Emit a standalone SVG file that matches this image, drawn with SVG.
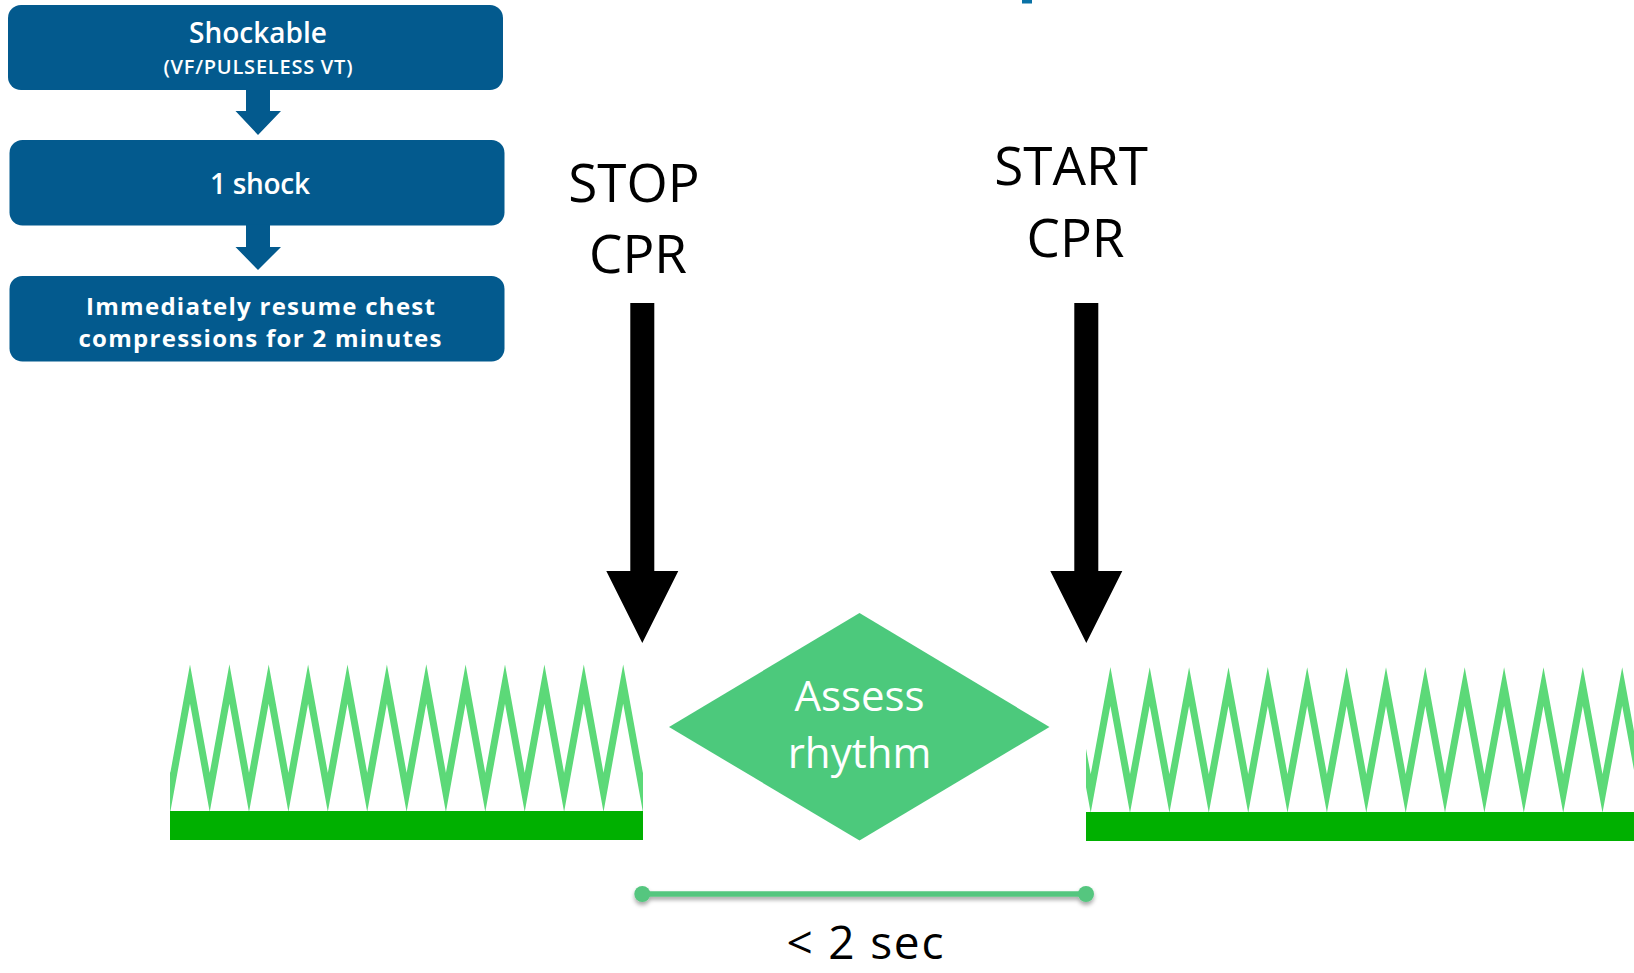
<svg xmlns="http://www.w3.org/2000/svg" width="1634" height="973" viewBox="0 0 1634 973">
  <style>
    .box { fill: #035A8E; }
    .boxtext { fill: #ffffff; font-family: "Open Sans", "Liberation Sans", sans-serif; font-weight: 600; text-anchor: middle; }
    .boxtext-strong { fill: #ffffff; font-family: "Open Sans", "Liberation Sans", sans-serif; font-weight: 700; text-anchor: middle; }
    .label { fill: #000000; font-family: "Open Sans", "Liberation Sans", sans-serif; font-size: 53px; text-anchor: middle; }
    .wave { fill: none; stroke: #5CD978; stroke-width: 7; stroke-linejoin: miter; stroke-miterlimit: 12; }
    .bar { fill: #00B000; }
    .bigarrow { fill: #000000; }
    .flowarrow { fill: #035A8E; }
  </style>
  <defs>
    <clipPath id="clipLeft"><rect x="170" y="640" width="473" height="200"/></clipPath>
    <clipPath id="clipRight"><rect x="1086" y="640" width="548" height="200"/></clipPath>
    <filter id="lineShadow" x="-5%" y="-100%" width="110%" height="300%">
      <feDropShadow dx="0" dy="3" stdDeviation="2" flood-color="#000000" flood-opacity="0.35"/>
    </filter>
  </defs>

  <rect width="1634" height="973" fill="#ffffff"/>

  <!-- descender of the heading above the frame -->
  <rect x="1022" y="0" width="10" height="3.5" fill="#0A72A6"/>

  <!-- flowchart boxes -->
  <g id="node-shockable">
    <rect class="box" x="8" y="5" width="495" height="85" rx="13"/>
    <text class="boxtext" x="258" y="42.5" font-size="28" textLength="138">Shockable</text>
    <text class="boxtext" x="258" y="74" font-size="20" textLength="189">(VF/PULSELESS VT)</text>
  </g>
  <g id="node-shock">
    <rect class="box" x="9.5" y="140" width="495" height="85.5" rx="13"/>
    <text class="boxtext" x="260" y="194" font-size="28" textLength="100">1 shock</text>
  </g>
  <g id="node-resume">
    <rect class="box" x="9.5" y="276" width="495" height="85.5" rx="13"/>
    <text class="boxtext-strong" x="260.5" y="315" font-size="24" textLength="349">Immediately resume chest</text>
    <text class="boxtext-strong" x="260" y="346.5" font-size="24" textLength="363">compressions for 2 minutes</text>
  </g>

  <!-- labels over the timing arrows -->
  <g id="node-stop">
    <text class="label" x="634" y="202">STOP</text>
    <text class="label" x="638" y="272.5">CPR</text>
  </g>
  <g id="node-start">
    <text class="label" x="1071" y="185">START</text>
    <text class="label" x="1075.5" y="256.5">CPR</text>
  </g>

  <!-- compression waveform before the pause -->
  <g id="node-compressions-before">
    <g clip-path="url(#clipLeft)">
      <polyline class="wave" points="150.6,684 170.3,792.5 190,684 209.7,792.5 229.4,684 249,792.5 268.7,684 288.4,792.5 308.1,684 327.8,792.5 347.5,684 367.2,792.5 386.9,684 406.6,792.5 426.3,684 445.9,792.5 465.6,684 485.3,792.5 505,684 524.7,792.5 544.4,684 564.1,792.5 583.8,684 603.5,792.5 623.2,684 642.9,792.5 662.6,684"/>
    </g>
    <rect class="bar" x="170" y="811" width="473" height="29"/>
  </g>

  <!-- compression waveform after the pause -->
  <g id="node-compressions-after">
    <g clip-path="url(#clipRight)">
      <polyline class="wave" points="1071,686.5 1090.7,793.5 1110.4,686.5 1130,793.5 1149.7,686.5 1169.4,793.5 1189.1,686.5 1208.8,793.5 1228.5,686.5 1248.2,793.5 1267.8,686.5 1287.5,793.5 1307.2,686.5 1326.9,793.5 1346.6,686.5 1366.3,793.5 1386,686.5 1405.7,793.5 1425.3,686.5 1445,793.5 1464.7,686.5 1484.4,793.5 1504.1,686.5 1523.8,793.5 1543.5,686.5 1563.2,793.5 1582.8,686.5 1602.5,793.5 1622.2,686.5 1641.9,793.5"/>
    </g>
    <rect class="bar" x="1086" y="812" width="548" height="29"/>
  </g>

  <!-- rhythm check decision -->
  <g id="node-assess">
    <polygon points="859.5,613 1049.5,727 859.5,840.5 669,727" fill="#4CC97C"/>
    <text x="859.5" y="711" fill="#ffffff" font-family="'Open Sans', 'Liberation Sans', sans-serif" font-size="42" text-anchor="middle">Assess</text>
    <text x="859.5" y="768" fill="#ffffff" font-family="'Open Sans', 'Liberation Sans', sans-serif" font-size="42" text-anchor="middle">rhythm</text>
  </g>

  <!-- pause duration -->
  <g id="node-duration">
    <g filter="url(#lineShadow)">
      <line x1="642.3" y1="894" x2="1086" y2="894" stroke="#55C67F" stroke-width="5.5"/>
      <circle cx="642.3" cy="894" r="8" fill="#55C67F"/>
      <circle cx="1086" cy="894" r="8" fill="#55C67F"/>
    </g>
    <text x="865" y="959" fill="#000000" font-family="'Open Sans', 'Liberation Sans', sans-serif" font-size="46" text-anchor="middle" textLength="157">&lt; 2 sec</text>
  </g>

  <!-- connectors -->
  <g id="connectors">
    <polygon class="flowarrow" points="246,89 270,89 270,111 281,111 258,135 235.5,111 246,111"/>
    <polygon class="flowarrow" points="246,224.5 270,224.5 270,247 281,247 258,270 235.5,247 246,247"/>
    <polygon class="bigarrow" points="630.3,303 654.3,303 654.3,571 678.3,571 642.3,643 606.3,571 630.3,571"/>
    <polygon class="bigarrow" points="1074.3,303 1098.3,303 1098.3,571 1122.3,571 1086.3,643 1050.3,571 1074.3,571"/>
  </g>
</svg>
